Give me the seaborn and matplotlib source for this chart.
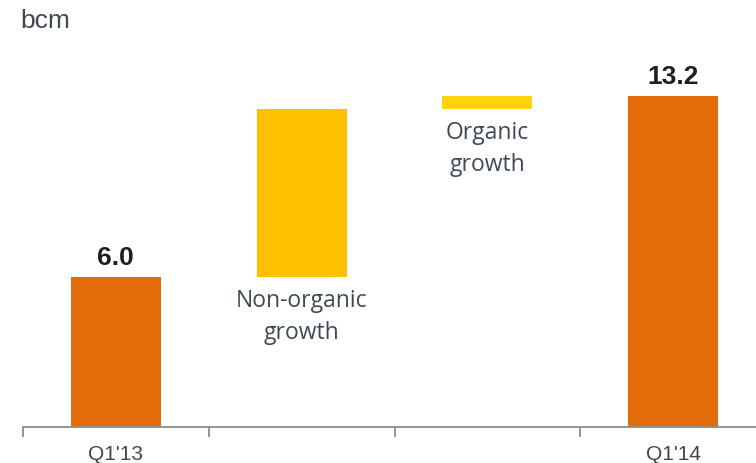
import matplotlib
matplotlib.use("Agg")
import matplotlib.pyplot as plt
import seaborn as sns
import pandas as pd

# ---- data ----
categories = ["Q1'13", "Non-organic growth", "Organic growth", "Q1'14"]
tick_labels = ["Q1'13", "", "", "Q1'14"]
heights = [6.0, 6.7, 0.5, 13.2]
bottoms = [0.0, 6.0, 12.7, 0.0]
value_labels = ["6.0", "", "", "13.2"]
bar_colors = ["#E36C0A", "#FFC000", "#FFD20A", "#E36C0A"]
annot_texts = ["", "Non-organic\ngrowth", "Organic\ngrowth", ""]
unit_label = "bcm"

sns.set_theme(style="white")
plt.rcParams["font.family"] = ["Liberation Sans", "DejaVu Sans"]

df = pd.DataFrame({"cat": categories, "h": heights, "b": bottoms})

fig = plt.figure(figsize=(7.56, 4.63), dpi=100)
ax = fig.add_axes([23 / 756, 36 / 463, 743 / 756, 376 / 463])

for i in range(len(categories)):
    sns.barplot(data=df.iloc[[i]], x="cat", y="h", order=categories,
                color=bar_colors[i], bottom=bottoms[i], width=0.484,
                ax=ax, saturation=1, linewidth=0)

ax.set_xlim(-0.5, 3.5)
ax.set_ylim(0, 15)
ax.set_xlabel("")
ax.set_ylabel("")
ax.set_yticks([])

for s in ["top", "right", "left"]:
    ax.spines[s].set_visible(False)
ax.spines["bottom"].set_color("#8C8C8C")
ax.spines["bottom"].set_linewidth(1.3)

ax.set_xticks(range(len(categories)))
ax.set_xticklabels(tick_labels, fontsize=15, color="#454545")
ax.tick_params(axis="x", which="major", length=0, pad=13)
ax.set_xticks([-0.5, 0.5, 1.5, 2.5], minor=True)
ax.tick_params(axis="x", which="minor", length=7, width=1.3, color="#8C8C8C",
               direction="out", bottom=True)

for i, (h, b, lbl) in enumerate(zip(heights, bottoms, value_labels)):
    if lbl:
        ax.text(i, b + h + 0.48, lbl, ha="center", va="baseline",
                fontsize=19, fontweight="bold", color="#1F1F1F")

for i, (h, b, t) in enumerate(zip(heights, bottoms, annot_texts)):
    if t:
        ax.text(i, b - 0.5, t, ha="center", va="top", fontsize=16.5,
                family=["Open Sans", "DejaVu Sans"], color="#3F4A54",
                linespacing=1.45)

fig.text(20 / 756, 1 - 21 / 463, unit_label, ha="left", va="center",
         fontsize=19, color="#404850")

fig.savefig("out.png", dpi=100)
